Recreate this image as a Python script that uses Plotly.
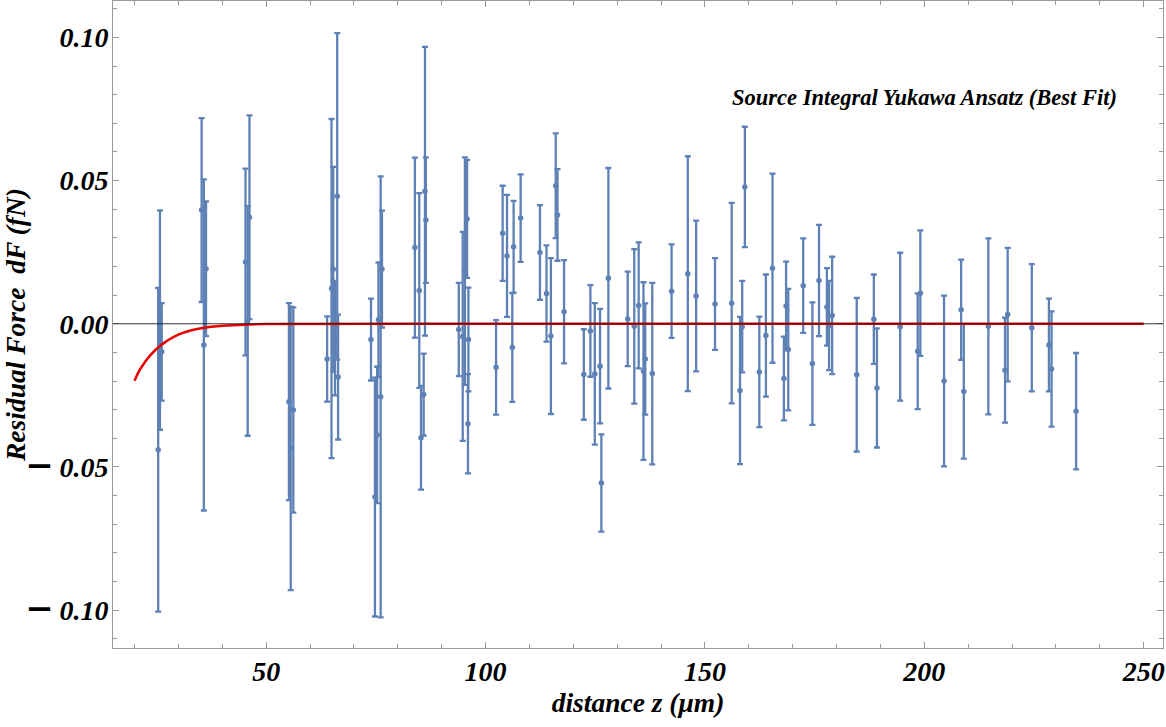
import plotly.graph_objects as go

# ---- data ----
z_um = [25.4, 25.8, 26.2,
        35.3, 35.8, 36.3,
        45.3, 45.8, 46.2,
        55.2, 55.6, 56.2,
        63.9, 64.9, 65.3, 65.7, 66.2, 66.4,
        73.9, 74.8, 75.3, 75.6, 76.1, 76.4,
        83.9, 84.9, 85.3, 85.9, 86.2, 86.4,
        93.9, 94.8, 95.3, 95.8, 96.0, 96.1,
        102.4, 103.9, 104.9, 106.1, 106.4, 108.0,
        112.4, 113.9, 114.9, 116.0, 116.4, 117.9,
        122.4, 123.9, 124.9, 126.1, 126.4, 128.0,
        132.4, 133.9, 134.9, 136.0, 136.4, 138.0,
        142.4, 146.1, 148.0,
        152.3, 156.1, 158.0, 158.5, 159.1,
        162.4, 163.9, 165.4, 168.0, 168.5, 169.0,
        172.4, 174.5, 176.0, 177.8, 178.3, 179.0,
        184.6, 188.5, 189.2, 194.5, 198.5, 199.1,
        204.5, 208.4, 209.0, 214.6, 218.4, 219.0,
        224.5, 228.4, 229.0, 234.6]

residual_fN = [-0.0440, 0.0013, -0.0098,
               0.0397, -0.0074, 0.0192,
               0.0216, 0.0010, 0.0372,
               -0.0272, -0.0435, -0.0301,
               -0.0123, 0.0123, 0.0190, -0.0050, 0.0445, -0.0186,
               -0.0055, -0.0605, -0.0388, 0.0014, -0.0255, 0.0191,
               0.0266, 0.0116, -0.0398, -0.0247, 0.0463, 0.0362,
               -0.0020, -0.0044, 0.0184, 0.0366, -0.0349, -0.0055,
               -0.0152, 0.0316, 0.0237, -0.0083, 0.0269, 0.0369,
               0.0249, 0.0106, -0.0043, 0.0482, 0.0380, 0.0042,
               -0.0177, -0.0025, -0.0175, -0.0148, -0.0556, 0.0159,
               0.0017, -0.0009, 0.0064, -0.0165, -0.0123, -0.0174,
               0.0114, 0.0175, 0.0097,
               0.0069, 0.0072, -0.0233, -0.0010, 0.0478,
               -0.0168, -0.0041, 0.0194, -0.0191, 0.0062, -0.0090,
               0.0133, -0.0139, 0.0151, 0.0059, -0.0006, 0.0029,
               -0.0178, 0.0016, -0.0224, -0.0010, -0.0096, 0.0107,
               -0.0200, 0.0049, -0.0236, -0.0009, -0.0162, 0.0032,
               -0.0014, -0.0074, -0.0158, -0.0305]

error_fN = [0.0565, 0.0383, 0.0170,
            0.0321, 0.0578, 0.0235,
            0.0326, 0.0401, 0.0356,
            0.0344, 0.0495, 0.0358,
            0.0149, 0.0592, 0.0358, 0.0200, 0.0570, 0.0218,
            0.0143, 0.0417, 0.0238, 0.0200, 0.0770, 0.0204,
            0.0314, 0.0340, 0.0181, 0.0143, 0.0504, 0.0219,
            0.0163, 0.0365, 0.0397, 0.0206, 0.0173, 0.0181,
            0.0165, 0.0166, 0.0213, 0.0190, 0.0160, 0.0153,
            0.0165, 0.0168, 0.0272, 0.0183, 0.0160, 0.0180,
            0.0158, 0.0160, 0.0247, 0.0200, 0.0170, 0.0385,
            0.0165, 0.0270, 0.0220, 0.0310, 0.0194, 0.0317,
            0.0163, 0.0410, 0.0263,
            0.0160, 0.0350, 0.0257, 0.0160, 0.0210,
            0.0193, 0.0213, 0.0330, 0.0146, 0.0155, 0.0212,
            0.0165, 0.0214, 0.0194, 0.0135, 0.0156, 0.0205,
            0.0268, 0.0156, 0.0208, 0.0258, 0.0202, 0.0219,
            0.0298, 0.0175, 0.0235, 0.0307, 0.0183, 0.0233,
            0.0222, 0.0162, 0.0201, 0.0203]

# best-fit Yukawa curve
fit_z = [20, 21, 22, 23, 24, 25, 26, 27, 28, 30, 32, 34, 37, 40, 45, 50, 100, 150, 200, 250]
fit_dF = [-0.0199, -0.0166, -0.0142, -0.0121, -0.0103, -0.0088, -0.0075, -0.0064,
          -0.0054, -0.0038, -0.0027, -0.0019, -0.0011, -0.0007, -0.0003, -0.0001,
          0.0, 0.0, 0.0, 0.0]

x_ticks = [50, 100, 150, 200, 250]
y_ticks = [-0.10, -0.05, 0.00, 0.05, 0.10]
MINUS = "<span style='font-family:DejaVu Serif;font-size:34px;font-style:normal'>\u2212</span>\u2009"
y_tick_text = [MINUS + "0.10", MINUS + "0.05", "0.00", "0.05", "0.10"]

BLUE = "#5E81B5"
FONT = "Liberation Serif"

fig = go.Figure()
fig.add_trace(go.Scatter(
    x=z_um, y=residual_fN, mode="markers",
    marker=dict(color=BLUE, size=5.5),
    error_y=dict(type="data", array=error_fN, color=BLUE, thickness=2.3, width=3),
    showlegend=False,
))
fig.add_trace(go.Scatter(
    x=fit_z, y=fit_dF, mode="lines", line=dict(color="#E80000", width=2.5, shape="spline"),
    showlegend=False,
))

# y = 0 axis line, drawn over the data like the reference
fig.add_shape(type="line", xref="paper", yref="y", x0=0, x1=1, y0=0, y1=0,
              line=dict(color="rgba(30,30,30,0.9)", width=1), layer="above")

fig.add_annotation(
    x=200, y=0.079, xref="x", yref="y", showarrow=False,
    text="Source Integral Yukawa Ansatz (Best Fit)",
    font=dict(family=FONT, size=22.5, color="black", weight="bold", style="italic"),
)

tickfont = dict(family=FONT, size=28, color="black", weight="bold", style="italic")
titlefont = dict(family=FONT, size=27.5, color="black", weight="bold", style="italic")

fig.update_xaxes(
    range=[15.1, 254.4], tickvals=x_ticks, ticktext=[str(v) for v in x_ticks],
    showgrid=False, zeroline=False, automargin=False,
    showline=True, linecolor="#9a9a9a", linewidth=1, mirror="allticks",
    ticks="inside", ticklen=6, tickcolor="#9a9a9a", tickwidth=1,
    minor=dict(dtick=10, tick0=0, ticks="inside", ticklen=4, tickcolor="#9a9a9a", showgrid=False),
    tickfont=tickfont, ticklabelstandoff=-2,
    title=dict(text="distance z (\u03bcm)", font=titlefont, standoff=6),
)
fig.update_yaxes(
    range=[-0.1132, 0.1127], tickvals=y_ticks, ticktext=y_tick_text,
    showgrid=False, zeroline=False, automargin=False,
    showline=True, linecolor="#9a9a9a", linewidth=1, mirror="allticks",
    ticks="inside", ticklen=6, tickcolor="#9a9a9a", tickwidth=1,
    minor=dict(dtick=0.01, tick0=0, ticks="inside", ticklen=4, tickcolor="#9a9a9a", showgrid=False),
    tickfont=tickfont, ticklabelstandoff=-2,
    title=dict(text="Residual Force  dF (fN)", font=titlefont, standoff=4),
)

fig.update_layout(
    width=1166, height=727,
    margin=dict(l=113, r=3, t=1, b=79),
    paper_bgcolor="white", plot_bgcolor="white",
)

fig.write_html("out.html", config={"displayModeBar": False},
               post_script="document.body.style.margin='0';")
